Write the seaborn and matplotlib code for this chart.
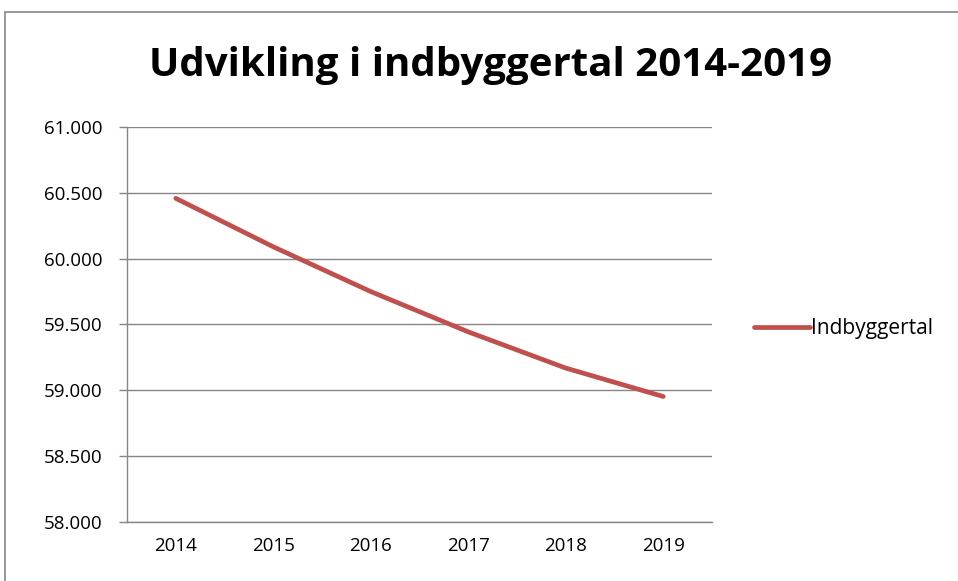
import matplotlib
matplotlib.use("Agg")
import matplotlib.pyplot as plt
import matplotlib.patches as mpatches
import seaborn as sns
import pandas as pd

# data
years = ["2014", "2015", "2016", "2017", "2018", "2019"]
indbyggertal = [60458, 60090, 59750, 59444, 59169, 58953]
y_ticks = [58000, 58500, 59000, 59500, 60000, 60500, 61000]

sns.set_style("white")
plt.rcParams["font.family"] = ["Open Sans", "DejaVu Sans"]
plt.rcParams["text.color"] = "black"
plt.rcParams["xtick.color"] = "black"
plt.rcParams["ytick.color"] = "black"

df = pd.DataFrame({"year": years, "value": indbyggertal})

fig = plt.figure(figsize=(9.58, 5.81), dpi=100)
ax = fig.add_axes([0.1326, 0.1015, 0.6106, 0.680])

sns.lineplot(data=df, x="year", y="value", ax=ax, color="#C0504D",
             linewidth=3.4, label="Indbyggertal", sort=False)

grid_col = "#868686"
ax.set_xlim(-0.5, len(years) - 0.5)
ax.set_ylim(58000, 61000)
ax.set_yticks(y_ticks)
ax.set_yticklabels([f"{v:,}".replace(",", ".") for v in y_ticks])
ax.yaxis.grid(True, color=grid_col, linewidth=1)
ax.xaxis.grid(False)

ax.set_xticks(range(len(years)))
ax.set_xticklabels(years)
ax.set_xticks([i - 0.5 for i in range(len(years) + 1)], minor=True)
ax.tick_params(axis="x", which="major", length=0, pad=11, labelsize=13.5,
               labelcolor="black")
ax.tick_params(axis="x", which="minor", length=6, color=grid_col, width=1, direction="out")
ax.tick_params(axis="y", length=6, color=grid_col, width=1, direction="out",
               left=True, labelsize=13.5, pad=12, labelcolor="black")

for s in ["top", "right"]:
    ax.spines[s].set_visible(False)
for s in ["left", "bottom"]:
    ax.spines[s].set_color(grid_col)
    ax.spines[s].set_linewidth(1)

ax.set_xlabel("")
ax.set_ylabel("")

leg = ax.legend(loc="center left", bbox_to_anchor=(1.04, 0.49), frameon=False,
                fontsize=15, handlelength=2.7, handletextpad=0.05)
for t in leg.get_texts():
    t.set_color("black")

fig.text(0.512, 0.888, "Udvikling i indbyggertal 2014-2019", ha="center",
         va="center", fontsize=29, fontweight="bold", color="black")

# outer chart border
fig.patches.append(mpatches.Rectangle((5 / 958, -0.05), 1, 1.05 - 12 / 581,
                                      transform=fig.transFigure, fill=False,
                                      edgecolor=grid_col, linewidth=1.2))

fig.savefig("out.png", dpi=100)
